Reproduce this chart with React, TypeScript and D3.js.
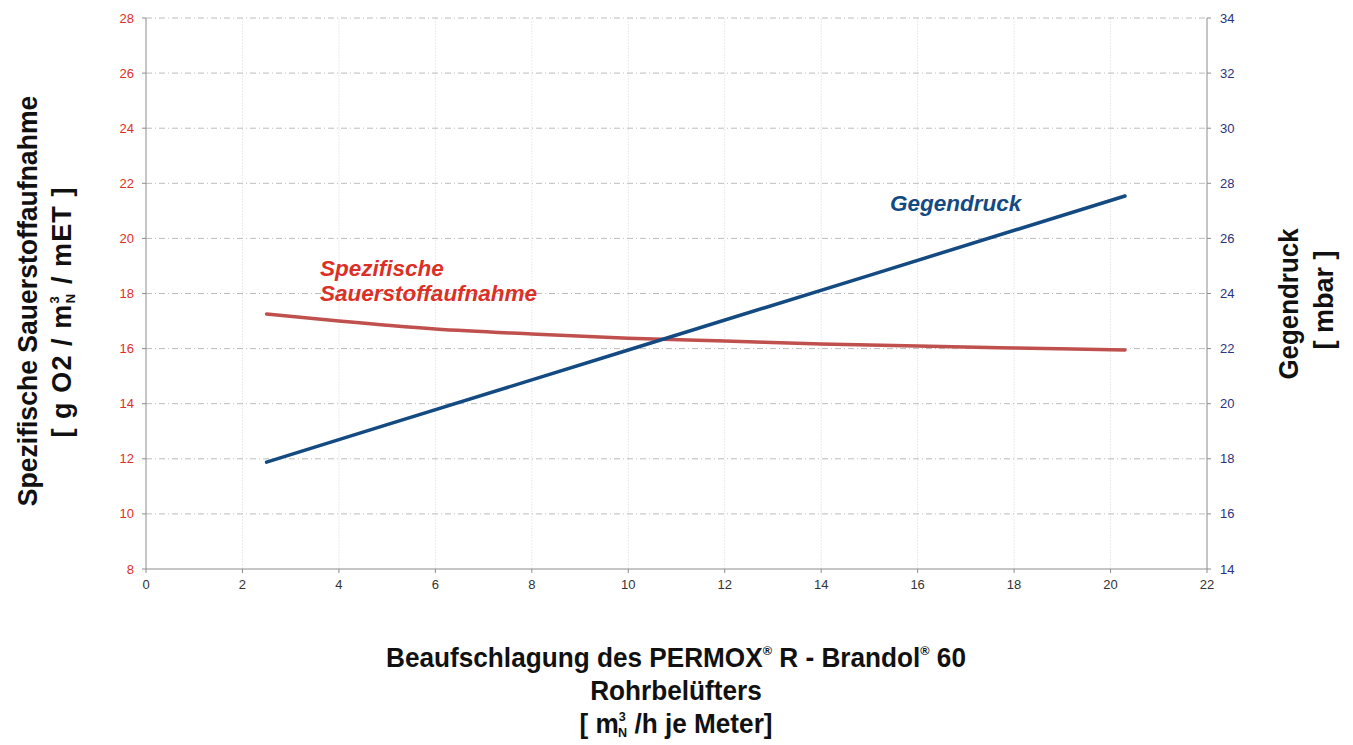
import React from "react";
import * as d3 from "d3";

// Data
const flowRate = [2.5, 4, 6, 8, 10, 12, 14, 16, 18, 20.3];
const oxygenUptake = [17.26, 17.0, 16.71, 16.53, 16.38, 16.28, 16.17, 16.09, 16.02, 15.95];
const pressureFlow = [2.5, 5, 10, 15, 20.3];
const backPressure = [17.88, 19.24, 21.95, 24.66, 27.54];

const xTicks = [0, 2, 4, 6, 8, 10, 12, 14, 16, 18, 20, 22];
const leftTicks = [8, 10, 12, 14, 16, 18, 20, 22, 24, 26, 28];
const rightTicks = [14, 16, 18, 20, 22, 24, 26, 28, 30, 32, 34];

const W = 1353;
const H = 745;
const M = { left: 146, right: 1207, top: 18, bottom: 569 };

const RED_LINE = "#c0504d";
const BLUE_LINE = "#134a82";
const RED_TEXT = "#dc3027";
const NAVY_TEXT = "#2b3280";
const TITLE_FONT = "'Liberation Sans', Arial, sans-serif";
const FONT = "'Liberation Sans', Arial, sans-serif";

export default function App() {
  const x = d3.scaleLinear().domain([0, 22]).range([M.left, M.right]);
  const yL = d3.scaleLinear().domain([8, 28]).range([M.bottom, M.top]);
  const yR = d3.scaleLinear().domain([14, 34]).range([M.bottom, M.top]);

  const redPts: [number, number][] = flowRate.map((f, i) => [f, oxygenUptake[i]]);
  const bluePts: [number, number][] = pressureFlow.map((f, i) => [f, backPressure[i]]);

  const redPath = d3
    .line<[number, number]>()
    .x((d) => x(d[0]))
    .y((d) => yL(d[1]))
    .curve(d3.curveMonotoneX)(redPts) as string;
  const bluePath = d3
    .line<[number, number]>()
    .x((d) => x(d[0]))
    .y((d) => yR(d[1]))(bluePts) as string;

  const axisColor = "#8c8c8c";

  return (
    <div style={{ position: "absolute", left: 0, top: 0 }}>
      <svg width={W} height={H} style={{ display: "block", background: "#fff" }}>
        {/* vertical grid */}
        {xTicks.slice(1, -1).map((t) => (
          <line key={"vg" + t} x1={x(t)} x2={x(t)} y1={M.top} y2={M.bottom}
            stroke="#ebebeb" strokeWidth={1} strokeDasharray="2 1" />
        ))}
        {/* horizontal grid */}
        {leftTicks.slice(1).map((t) => (
          <line key={"hg" + t} x1={M.left} x2={M.right} y1={yL(t)} y2={yL(t)}
            stroke="#bdbdbd" strokeWidth={1} strokeDasharray="6 3 1 3" />
        ))}
        {/* axes */}
        <line x1={M.left} x2={M.left} y1={M.top} y2={M.bottom} stroke={axisColor} strokeWidth={1} />
        <line x1={M.right} x2={M.right} y1={M.top} y2={M.bottom} stroke={axisColor} strokeWidth={1} />
        <line x1={M.left} x2={M.right} y1={M.bottom} y2={M.bottom} stroke={axisColor} strokeWidth={1} />
        {leftTicks.map((t) => (
          <g key={"lt" + t}>
            <line x1={M.left - 4} x2={M.left} y1={yL(t)} y2={yL(t)} stroke={axisColor} />
            <text x={M.left - 12} y={yL(t) + 4.5} textAnchor="end" fontSize={13} fill={RED_TEXT} fontFamily={FONT}>{t}</text>
          </g>
        ))}
        {rightTicks.map((t) => (
          <g key={"rt" + t}>
            <line x1={M.right} x2={M.right + 4} y1={yR(t)} y2={yR(t)} stroke={axisColor} />
            <text x={M.right + 13} y={yR(t) + 4.5} textAnchor="start" fontSize={13} fill={NAVY_TEXT} fontFamily={FONT}>{t}</text>
          </g>
        ))}
        {xTicks.map((t) => (
          <g key={"xt" + t}>
            <line x1={x(t)} x2={x(t)} y1={M.bottom} y2={M.bottom + 4} stroke={axisColor} />
            <text x={x(t)} y={M.bottom + 20} textAnchor="middle" fontSize={13} fill="#333" fontFamily={FONT}>{t}</text>
          </g>
        ))}

        {/* series */}
        <path d={redPath} fill="none" stroke={RED_LINE} strokeWidth={3.5} strokeLinecap="round" />
        <path d={bluePath} fill="none" stroke={BLUE_LINE} strokeWidth={3.5} strokeLinecap="round" />

        {/* series labels */}
        <text x={320} y={276} fontSize={22.5} fontWeight="bold" fontStyle="italic" fill={RED_TEXT} fontFamily={FONT}>Spezifische</text>
        <text x={320} y={301} fontSize={22.5} fontWeight="bold" fontStyle="italic" fill={RED_TEXT} fontFamily={FONT}>Sauerstoffaufnahme</text>
        <text x={890} y={211} fontSize={22.5} fontWeight="bold" fontStyle="italic" fill={BLUE_LINE} fontFamily={FONT}>Gegendruck</text>

        {/* left title */}
        <g transform={`translate(37, 301) rotate(-90) scale(0.985, 1)`}>
          <text x={0} y={0} textAnchor="middle" fontSize={27} fontWeight="bold" fill="#111" fontFamily={TITLE_FONT}>Spezifische Sauerstoffaufnahme</text>
        </g>
        <g transform={`translate(71, 312) rotate(-90)`}>
          <text x={0} y={0} textAnchor="middle" fontSize={27} fontWeight="bold" fill="#111" fontFamily={TITLE_FONT} letterSpacing={1.1}>
            <tspan>[ g O2 / m</tspan>
            <tspan fontSize={13} dy={-12}>3</tspan>
            <tspan fontSize={13} dx={-8} dy={16}>N</tspan>
            <tspan dy={-4}> / mET ]</tspan>
          </text>
        </g>

        {/* right title */}
        <g transform={`translate(1298, 304) rotate(-90) scale(0.96, 1)`}>
          <text x={0} y={0} textAnchor="middle" fontSize={27} fontWeight="bold" fill="#111" fontFamily={TITLE_FONT}>Gegendruck</text>
        </g>
        <g transform={`translate(1333, 300) rotate(-90)`}>
          <text x={0} y={0} textAnchor="middle" fontSize={27} fontWeight="bold" fill="#111" fontFamily={TITLE_FONT}>[ mbar ]</text>
        </g>

        {/* x title */}
        <g transform="translate(676, 0) scale(0.97, 1)">
          <text x={0} y={667} textAnchor="middle" fontSize={27} fontWeight="bold" fill="#111" fontFamily={TITLE_FONT}>
            <tspan>Beaufschlagung des PERMOX</tspan>
            <tspan fontSize={13} dy={-12}>®</tspan>
            <tspan dy={12}> R - Brandol</tspan>
            <tspan fontSize={13} dy={-12}>®</tspan>
            <tspan dy={12}> 60</tspan>
          </text>
          <text x={0} y={700} textAnchor="middle" fontSize={27} fontWeight="bold" fill="#111" fontFamily={TITLE_FONT}>Rohrbelüfters</text>
          <text x={0} y={733} textAnchor="middle" fontSize={27} fontWeight="bold" fill="#111" fontFamily={TITLE_FONT}>
            <tspan>[ m</tspan>
            <tspan fontSize={13} dy={-12}>3</tspan>
            <tspan fontSize={13} dx={-8} dy={16}>N</tspan>
            <tspan dy={-4}> /h je Meter]</tspan>
          </text>
        </g>
      </svg>
    </div>
  );
}
